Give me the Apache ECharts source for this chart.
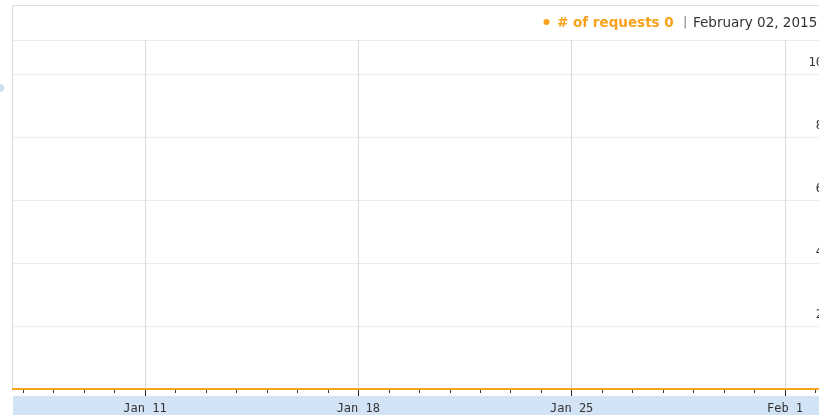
<!DOCTYPE html>
<html>
<head>
<meta charset="utf-8">
<title>requests</title>
<script src="https://cdn.jsdelivr.net/npm/echarts@6/dist/echarts.min.js"></script>
<style>
    html, body { margin: 0; padding: 0; background: #fff; }
    #main { width: 819px; height: 415px; }
</style>
</head>
<body>
<div id="main"></div>
<script>
    // daily request counts
    var days = ['2015-01-06', '2015-01-07', '2015-01-08', '2015-01-09', '2015-01-10', '2015-01-11', '2015-01-12',
        '2015-01-13', '2015-01-14', '2015-01-15', '2015-01-16', '2015-01-17', '2015-01-18', '2015-01-19',
        '2015-01-20', '2015-01-21', '2015-01-22', '2015-01-23', '2015-01-24', '2015-01-25', '2015-01-26',
        '2015-01-27', '2015-01-28', '2015-01-29', '2015-01-30', '2015-01-31', '2015-02-01', '2015-02-02',
        '2015-02-03'];
    var requests = [0, 0, 0, 0, 0, 0, 0, 0, 0, 0, 0, 0, 0, 0, 0, 0, 0, 0, 0, 0, 0, 0, 0, 0, 0, 0, 0, 0, 0];
    var weekLabels = ['2015-01-11', '2015-01-18', '2015-01-25', '2015-02-01'];
    var yTicks = [2, 4, 6, 8, 10];
    var seriesName = '# of requests';
    var cursorDate = 'February 02, 2015';

    function ts(d) {
        var p = d.split('-');
        return Date.UTC(+p[0], +p[1] - 1, +p[2]);
    }
    var DAY = 86400000;
    var xMin = ts('2015-01-11') - 4.331 * DAY;
    var xMax = ts('2015-01-11') + 22.116 * DAY;
    var orange = '#f9a11b';
    var monthNames = ['Jan', 'Feb', 'Mar', 'Apr', 'May', 'Jun', 'Jul', 'Aug', 'Sep', 'Oct', 'Nov', 'Dec'];

    var myChart = echarts.init(document.getElementById('main'));
    var option = {
        animation: false,
        grid: { left: 13, right: 0, top: 40, bottom: 26, outerBoundsMode: 'none', containLabel: false },
        graphic: [
            { type: 'rect', z: -10, shape: { x: 13, y: 396, width: 810, height: 20 }, style: { fill: '#d3e3f6' } },
            { type: 'rect', z: -10, shape: { x: 12.5, y: 5.5, width: 820, height: 384 }, style: { fill: 'none', stroke: '#dcdcdc', lineWidth: 1 } },
            { type: 'line', z: -10, shape: { x1: 13, y1: 40.5, x2: 819, y2: 40.5 }, style: { stroke: '#dcdcdc', lineWidth: 1 } },
            { type: 'circle', shape: { cx: 0, cy: 88, r: 4 }, style: { fill: '#cfdcf2' } },
            { type: 'circle', shape: { cx: 546.5, cy: 22, r: 3 }, style: { fill: orange } },
            { type: 'text', x: 557, y: 23, style: { text: seriesName + ' ' + requests[requests.length - 2], fill: orange, font: 'bold 13.5px "DejaVu Sans"', verticalAlign: 'middle' } },
            { type: 'text', x: 683, y: 23, style: { text: '|', fill: '#888', font: '13px "DejaVu Sans"', verticalAlign: 'middle' } },
            { type: 'text', x: 693, y: 23, style: { text: cursorDate, fill: '#333', font: '13.5px "DejaVu Sans"', verticalAlign: 'middle' } }
        ],
        xAxis: [
            {
                type: 'value', min: xMin, max: xMax, z: 10,
                axisLine: { show: false },
                axisTick: { show: true, length: 4, customValues: days.map(ts), lineStyle: { color: '#333' } },
                axisLabel: { show: false },
                splitLine: { show: false }
            },
            {
                type: 'value', min: xMin, max: xMax, position: 'bottom', z: 10,
                axisLine: { show: false },
                axisTick: { show: true, length: 7, customValues: weekLabels.map(ts), lineStyle: { color: '#222' } },
                axisLabel: {
                    customValues: weekLabels.map(ts), color: '#333', fontSize: 12, fontFamily: 'DejaVu Sans Mono', margin: 14,
                    formatter: function (v) {
                        var d = new Date(v);
                        return monthNames[d.getUTCMonth()] + ' ' + d.getUTCDate();
                    }
                },
                splitLine: { show: true, lineStyle: { color: '#dadada' } }
            }
        ],
        yAxis: {
            type: 'value', position: 'right', min: 0, max: 11.08,
            axisLine: { show: false },
            axisTick: { show: false },
            axisLabel: {
                inside: true, margin: -4, color: '#333', fontSize: 12, fontFamily: 'DejaVu Sans Mono',
                verticalAlign: 'bottom', padding: [0, 0, 5, 0],
                customValues: yTicks
            },
            splitLine: { show: true, lineStyle: { color: '#ebebf2' } },
            interval: 2
        },
        series: [{
            name: seriesName,
            type: 'line',
            xAxisIndex: 0,
            data: days.map(function (d, i) { return [ts(d), requests[i]]; }),
            symbol: 'none',
            lineStyle: { color: orange, width: 2 },
            z: 20
        }]
    };
    myChart.setOption(option);
</script>
</body>
</html>
